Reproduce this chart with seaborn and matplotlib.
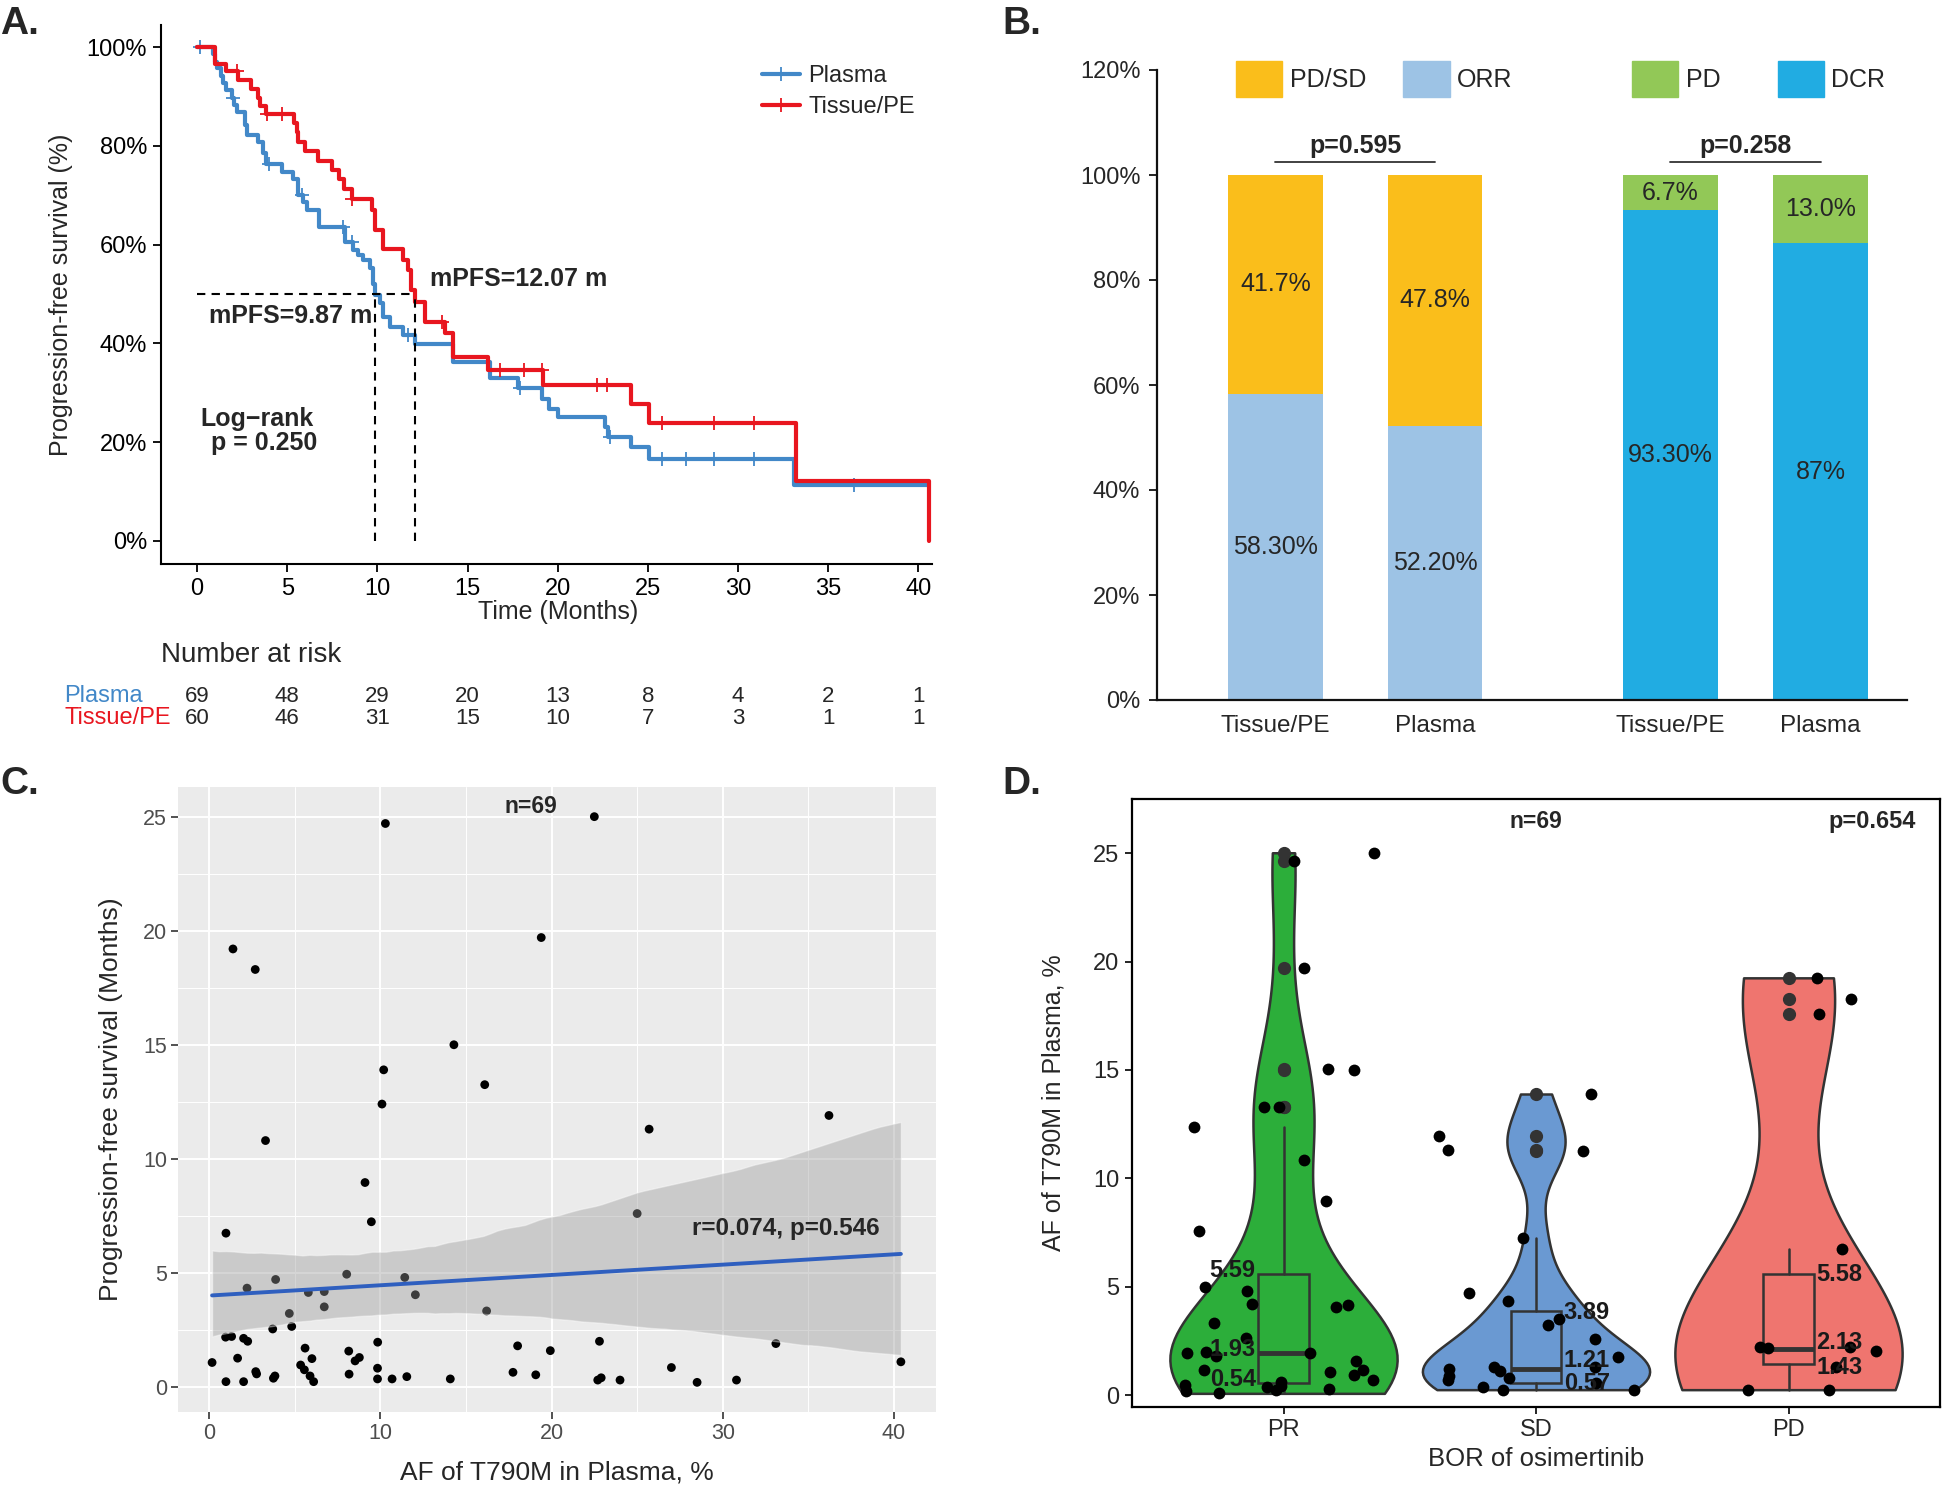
import numpy as np
import pandas as pd
import matplotlib
matplotlib.use("Agg")
import matplotlib.pyplot as plt
import matplotlib.transforms as mtransforms
from matplotlib.patches import Patch
from matplotlib.lines import Line2D
import seaborn as sns

sns.set_theme(style="white")
plt.rcParams["font.family"] = ["Liberation Sans", "DejaVu Sans"]

# ---------------- data ----------------
# A: Kaplan-Meier step points (months, survival % after each drop)
plasma_t = [0, 0.9, 1.0, 1.1, 1.3, 1.45, 1.63, 1.95, 2.05, 2.19, 2.65, 2.75, 3.39, 3.67,
            3.82, 4.69, 5.33, 5.61, 5.89, 6.07, 6.77, 8.2, 8.66, 8.94, 9.2, 9.59, 9.77,
            9.87, 10.14, 10.32, 10.7, 11.43, 12.08, 14.2, 16.24, 17.8, 19.1, 19.5, 20.03,
            22.6, 22.8, 24.06, 25.08, 33.1, 40.5]
plasma_s = [100, 98.6, 97.1, 95.7, 94.2, 92.8, 91.3, 89.8, 88.2, 86.8, 84.2, 82.3, 80.8,
            78.5, 76.4, 74.7, 73.4, 70.0, 68.7, 67.0, 63.6, 60.6, 58.9, 57.9, 56.8, 55.2,
            52.0, 49.8, 48.1, 45.4, 43.3, 41.7, 39.8, 36.2, 32.9, 30.9, 28.8, 26.8, 25.1,
            23.1, 21.0, 19.0, 16.5, 11.3, 11.3]
plasma_censor = [0.15, 2.0, 3.98, 5.81, 8.09, 8.57, 11.7, 17.9, 22.9, 25.8, 27.1, 28.66,
                 30.9, 36.4]
tissue_t = [0, 1.0, 1.6, 2.28, 2.98, 3.36, 3.48, 3.82, 5.37, 5.52, 5.61, 5.98, 6.72, 7.46,
            7.86, 8.14, 8.57, 9.68, 9.86, 10.32, 11.43, 11.71, 11.85, 12.07, 12.63, 13.74,
            14.2, 16.15, 19.16, 24.06, 25.08, 33.2, 40.6]
tissue_s = [100, 96.7, 95.1, 93.3, 91.6, 89.7, 88.1, 86.4, 84.7, 82.8, 80.8, 78.9, 76.9,
            75.1, 73.2, 71.2, 69.2, 67.0, 62.9, 59.2, 56.8, 54.8, 50.8, 48.4, 44.3, 42.0,
            37.3, 34.7, 31.5, 27.7, 23.8, 12.1, 0.0]
tissue_censor = [2.19, 3.89, 4.69, 8.6, 13.56, 16.8, 18.1, 19.1, 22.2, 22.75, 25.8,
                 28.66, 30.9]
median_plasma = 9.87
median_tissue = 12.07
risk_times = [0, 5, 10, 15, 20, 25, 30, 35, 40]
risk_plasma = [69, 48, 29, 20, 13, 8, 4, 2, 1]
risk_tissue = [60, 46, 31, 15, 10, 7, 3, 1, 1]

# B: response rates
b_groups = ["Tissue/PE", "Plasma"]
orr = [58.3, 52.2]
pdsd = [41.7, 47.8]
dcr = [93.3, 87.0]
pd_rate = [6.7, 13.0]
orr_labels = ["58.30%", "52.20%"]
pdsd_labels = ["41.7%", "47.8%"]
dcr_labels = ["93.30%", "87%"]
pd_labels = ["6.7%", "13.0%"]

# C: AF vs PFS
af = [0.99, 9.11, 9.48, 0.18, 0.99, 2.02, 1.67, 0.97, 1.32, 2.02, 2.26, 2.22, 3.89, 3.72,
      4.69, 4.83, 5.8, 6.73, 6.73, 8.04, 11.43, 12.05, 16.21, 2.73, 2.78, 3.76, 3.85, 5.61,
      6.01, 5.35, 5.57, 5.9, 6.11, 8.16, 8.53, 8.78, 8.18, 9.85, 9.84, 9.84, 10.69, 11.55,
      14.09, 18.02, 17.75, 19.08, 19.93,
      22.8, 33.1, 40.4, 27.0, 22.7, 22.9, 24.0, 30.8, 28.5, 25.0, 25.7, 36.2, 22.5,
      10.3, 1.4, 2.7, 19.4, 14.3, 10.2, 16.1, 10.1, 3.3]
pfs = [6.74, 8.96, 7.24, 1.07, 0.23, 0.23, 1.26, 2.18, 2.21, 2.13, 2.0, 4.33, 4.71, 2.54,
       3.22, 2.65, 4.14, 4.18, 3.51, 4.94, 4.80, 4.04, 3.33, 0.67, 0.57, 0.38, 0.48, 1.70,
       1.24, 0.96, 0.75, 0.48, 0.23, 1.57, 1.14, 1.29, 0.56, 1.96, 0.82, 0.35, 0.35, 0.45,
       0.35, 1.80, 0.64, 0.53, 1.59,
       2.0, 1.9, 1.1, 0.85, 0.3, 0.4, 0.3, 0.3, 0.2, 7.6, 11.3, 11.9, 25.0,
       24.7, 19.2, 18.3, 19.7, 15.0, 13.9, 13.25, 12.4, 10.8]

# D: AF by best overall response
bor_groups = ["PR", "SD", "PD"]
af_pr = [0.08, 0.17, 0.25, 0.30, 0.38, 0.43, 0.47, 0.60, 0.69, 0.92, 1.05, 1.14, 1.17,
         1.58, 1.81, 1.93, 1.93, 1.99, 2.64, 3.34, 4.05, 4.14, 4.19, 4.81, 4.99, 7.59,
         8.96, 10.85, 12.39, 13.29, 13.29, 15.0, 15.06, 19.69, 24.63, 25.02]
af_sd = [0.25, 0.25, 0.38, 0.57, 0.69, 0.78, 0.87, 1.10, 1.22, 1.28, 1.31, 1.75, 2.59,
         3.25, 3.52, 4.35, 4.70, 7.23, 11.24, 11.3, 11.95, 13.89]
af_pd = [0.25, 0.25, 1.31, 2.05, 2.16, 2.20, 2.23, 6.74, 17.57, 18.27, 19.25]
box_q1 = [0.54, 0.57, 1.43]
box_med = [1.93, 1.21, 2.13]
box_q3 = [5.59, 3.89, 5.58]

# ---------------- figure ----------------
fig = plt.figure(figsize=(19.44, 14.86), dpi=100)
W, H = 1944, 1486


def add_ax(l, t, r, b):
    return fig.add_axes([l / W, 1 - b / H, (r - l) / W, (b - t) / H])


blue, red = "#4288C8", "#E8161F"

# ===== A: survival curves =====
axA = add_ax(161, 25, 932, 564)
for t, s, cens, col in [(plasma_t, plasma_s, plasma_censor, blue),
                        (tissue_t, tissue_s, tissue_censor, red)]:
    df = pd.DataFrame({"time": t, "surv": s})
    sns.lineplot(data=df, x="time", y="surv", drawstyle="steps-post", estimator=None,
                 sort=False, color=col, lw=3, ax=axA)
    idx = np.searchsorted(np.array(t), np.array(cens), side="right") - 1
    axA.plot(cens, np.array(s)[idx], ls="none", marker="+", ms=10, mew=1.3, color=col)

dash = dict(color="black", lw=1.5, dashes=(4, 3))
axA.plot([0, median_tissue], [50, 50], **dash)
axA.plot([median_plasma, median_plasma], [0, 50], **dash)
axA.plot([median_tissue, median_tissue], [0, 50], **dash)
axA.text(12.9, 53.0, f"mPFS={median_tissue:.2f} m", fontsize=18, fontweight="bold",
         ha="left", va="center")
axA.text(9.7, 45.6, f"mPFS={median_plasma:.2f} m", fontsize=18, fontweight="bold",
         ha="right", va="center")
axA.text(3.3, 24.6, "Log\u2212rank", fontsize=18, fontweight="bold", ha="center", va="center")
axA.text(3.7, 19.8, "p = 0.250", fontsize=18, fontweight="bold", ha="center", va="center")

axA.set_xlim(-2.0, 40.75)
axA.set_ylim(-4.7, 104.5)
axA.set_xticks(risk_times)
axA.set_yticks([0, 20, 40, 60, 80, 100])
axA.set_yticklabels([f"{v}%" for v in [0, 20, 40, 60, 80, 100]])
axA.set_xlabel("Time (Months)", fontsize=18, labelpad=2)
axA.xaxis.set_label_coords(0.515, -0.066)
axA.set_ylabel("Progression-free survival (%)", fontsize=18, labelpad=10)
for sp in ["top", "right"]:
    axA.spines[sp].set_visible(False)
for sp in ["left", "bottom"]:
    axA.spines[sp].set_color("black")
    axA.spines[sp].set_linewidth(1.5)
axA.tick_params(axis="both", direction="out", length=6, width=1.3, color="black",
                labelsize=17, labelcolor="black", left=True, bottom=True, pad=4)
legA = [Line2D([0], [0], color=blue, lw=3, marker="+", ms=10, mew=1.3, label="Plasma"),
        Line2D([0], [0], color=red, lw=3, marker="+", ms=10, mew=1.3, label="Tissue/PE")]
axA.legend(handles=legA, loc="upper left", bbox_to_anchor=(0.78, 0.925), frameon=False,
           fontsize=17, handlelength=1.6, handletextpad=0.35, labelspacing=0.38,
           borderpad=0, borderaxespad=0)

# risk table
trans = mtransforms.blended_transform_factory(axA.transData, fig.transFigure)
fig.text(161 / W, 1 - 655 / H, "Number at risk", fontsize=20, ha="left", va="center")
fig.text(64 / W, 1 - 696 / H, "Plasma", fontsize=17, color=blue, ha="left", va="center")
fig.text(64 / W, 1 - 718 / H, "Tissue/PE", fontsize=17, color=red, ha="left", va="center")
for x, a, b in zip(risk_times, risk_plasma, risk_tissue):
    axA.text(x, 1 - 696 / H, str(a), transform=trans, fontsize=16, ha="center",
             va="center", clip_on=False)
    axA.text(x, 1 - 718 / H, str(b), transform=trans, fontsize=16, ha="center",
             va="center", clip_on=False)

# ===== B: stacked bars =====
axB = add_ax(1157, 70, 1907, 700)
c_pdsd, c_orr, c_pd, c_dcr = "#FABE1B", "#9DC3E5", "#92C857", "#21ACE2"
pos_l = np.array([0, 1])
pos_r = np.array([2.47, 3.41])
bw = 0.59
c1 = axB.bar(pos_l, orr, width=bw, color=c_orr, linewidth=0)
c2 = axB.bar(pos_l, pdsd, bottom=orr, width=bw, color=c_pdsd, linewidth=0)
c3 = axB.bar(pos_r, dcr, width=bw, color=c_dcr, linewidth=0)
c4 = axB.bar(pos_r, pd_rate, bottom=dcr, width=bw, color=c_pd, linewidth=0)
for cont, labs in [(c1, orr_labels), (c2, pdsd_labels), (c3, dcr_labels), (c4, pd_labels)]:
    axB.bar_label(cont, labels=labs, label_type="center", fontsize=18)
for pp, ptxt in [(pos_l, "p=0.595"), (pos_r, "p=0.258")]:
    axB.plot(pp, [102.5, 102.5], color="#333333", lw=1.3, clip_on=False)
    axB.text(pp.mean(), 105.6, ptxt, fontsize=18, fontweight="bold", ha="center",
             va="center")
axB.set_xlim(-0.74, 3.95)
axB.set_ylim(0, 120)
axB.set_yticks(range(0, 121, 20))
axB.set_yticklabels([f"{v}%" for v in range(0, 121, 20)])
axB.set_xticks(np.concatenate([pos_l, pos_r]))
axB.set_xticklabels(b_groups + b_groups)
for sp in ["top", "right"]:
    axB.spines[sp].set_visible(False)
for sp in ["left", "bottom"]:
    axB.spines[sp].set_color("#111111")
    axB.spines[sp].set_linewidth(1.6)
axB.tick_params(axis="y", direction="out", length=6, width=1.3, color="#111111",
                labelsize=17, left=True, pad=6)
axB.tick_params(axis="x", length=0, labelsize=17.5, pad=11)
lg_kw = dict(loc="upper left", frameon=False, fontsize=18, ncol=2, handlelength=1.85,
             handleheight=1.8, handletextpad=0.3, borderpad=0, borderaxespad=0)
lg1 = axB.legend(handles=[Patch(color=c_pdsd, label="PD/SD"), Patch(color=c_orr, label="ORR")],
                 bbox_to_anchor=(0.105, 1.014), columnspacing=1.5, **lg_kw)
axB.add_artist(lg1)
axB.legend(handles=[Patch(color=c_pd, label="PD"), Patch(color=c_dcr, label="DCR")],
           bbox_to_anchor=(0.633, 1.014), columnspacing=2.3, **lg_kw)

# ===== C: scatter with regression =====
axC = add_ax(178, 787, 936, 1412)
axC.set_facecolor("#EBEBEB")
sns.scatterplot(x=af, y=pfs, color="black", s=40, edgecolor="none", ax=axC, zorder=2)
sns.regplot(x=af, y=pfs, scatter=False, ci=95, seed=7, color="#2F5FBF",
            line_kws=dict(lw=2.8, zorder=4), ax=axC)
for coll in axC.collections[1:]:
    coll.set_facecolor("#999999")
    coll.set_alpha(0.4)
    coll.set_zorder(3)
axC.set_xlim(-1.81, 42.45)
axC.set_ylim(-1.1, 26.3)
axC.set_xticks([0, 10, 20, 30, 40])
axC.set_xticks([5, 15, 25, 35], minor=True)
axC.set_yticks([0, 5, 10, 15, 20, 25])
axC.set_yticks([2.5, 7.5, 12.5, 17.5, 22.5], minor=True)
axC.grid(which="major", color="white", lw=1.4)
axC.grid(which="minor", color="white", lw=0.7)
axC.set_axisbelow(True)
for sp in axC.spines.values():
    sp.set_visible(False)
axC.tick_params(which="major", direction="out", length=5, width=1.2, color="#333333",
                labelsize=15.5, labelcolor="#4D4D4D", left=True, bottom=True, pad=3)
axC.tick_params(which="minor", length=0)
axC.set_xlabel("AF of T790M in Plasma, %", fontsize=19, labelpad=12)
axC.set_ylabel("Progression-free survival (Months)", fontsize=19, labelpad=14)
axC.text(18.8, 25.45, "n=69", fontsize=16.5, fontweight="bold", ha="center", va="center")
axC.text(33.7, 6.95, "r=0.074, p=0.546", fontsize=17.5, fontweight="bold", ha="center",
         va="center", zorder=6)

# ===== D: violins =====
axD = add_ax(1132, 799, 1940, 1407)
vcols = ["#2CAE3A", "#6A99D2", "#EF756F"]
groups_vals = [af_pr, af_sd, af_pd]
for g, vals, col in zip(bor_groups, groups_vals, vcols):
    v = np.array(vals)
    sd = v.std(ddof=1)
    iqr = np.subtract(*np.percentile(v, [75, 25]))
    bw_r = 0.9 * min(sd, iqr / 1.34) * len(v) ** -0.2
    sns.violinplot(x=[g] * len(v), y=v, order=bor_groups, color=col, saturation=1,
                   cut=0, density_norm="width", width=0.9, inner=None,
                   bw_method=bw_r / sd, linewidth=1.8, linecolor="#333333", ax=axD)

stats = []
for vals, q1, med, q3 in zip(groups_vals, box_q1, box_med, box_q3):
    v = np.array(vals)
    hi_f, lo_f = q3 + 1.5 * (q3 - q1), q1 - 1.5 * (q3 - q1)
    inside = v[(v <= hi_f) & (v >= lo_f)]
    stats.append(dict(q1=q1, med=med, q3=q3, whislo=inside.min(), whishi=inside.max(),
                      fliers=v[(v > hi_f) | (v < lo_f)]))
bp = axD.bxp(stats, positions=[0, 1, 2], widths=0.2, patch_artist=True, showcaps=False,
             boxprops=dict(edgecolor="#333333", lw=1.8),
             whiskerprops=dict(color="#333333", lw=1.8),
             medianprops=dict(color="#333333", lw=3.5),
             flierprops=dict(marker="o", markerfacecolor="#333333",
                             markeredgecolor="#333333", markersize=8.5),
             manage_ticks=False, zorder=3)
for patch, col in zip(bp["boxes"], vcols):
    patch.set_facecolor(col)

np.random.seed(11)
d_df = pd.DataFrame({"bor": np.repeat(bor_groups, [len(x) for x in groups_vals]),
                     "af": np.concatenate(groups_vals)})
sns.stripplot(data=d_df, x="bor", y="af", order=bor_groups, color="black", size=8.5,
              jitter=0.4, linewidth=0, ax=axD, zorder=5)

# label nudges (q1, median, q3) in data units, as placed in the reference
nudges = [(0.17, 0.18, 0.14), (-0.05, 0.4, -0.1), (-0.14, 0.3, -0.03)]
for i, (q1, med, q3) in enumerate(zip(box_q1, box_med, box_q3)):
    xs, ha = (i - 0.11, "right") if i == 0 else (i + 0.11, "left")
    for val, dy in zip((q1, med, q3), nudges[i]):
        axD.text(xs, val + dy, f"{val:.2f}", fontsize=17, fontweight="bold", ha=ha,
                 va="center", color="#1A1A1A", zorder=6)
axD.text(1, 26.46, "n=69", fontsize=16.5, fontweight="bold", ha="center", va="center")
axD.text(2.33, 26.46, "p=0.654", fontsize=17, fontweight="bold", ha="center", va="center")
axD.set_xlim(-0.6, 2.6)
axD.set_ylim(-0.55, 27.5)
axD.set_yticks([0, 5, 10, 15, 20, 25])
for sp in axD.spines.values():
    sp.set_visible(True)
    sp.set_color("black")
    sp.set_linewidth(1.6)
axD.tick_params(direction="out", length=5, width=1.2, color="black", labelsize=17,
                left=True, bottom=True, pad=4)
axD.set_xlabel("BOR of osimertinib", fontsize=18.5, labelpad=4)
axD.set_ylabel("AF of T790M in Plasma, %", fontsize=18, labelpad=20)

# panel letters
for txt, x, y in [("A.", 0, 6), ("B.", 1002, 6), ("C.", 0, 766), ("D.", 1002, 766)]:
    fig.text(x / W, 1 - y / H, txt, fontsize=28, fontweight="bold", ha="left", va="top")

fig.savefig("out.png", dpi=100)
